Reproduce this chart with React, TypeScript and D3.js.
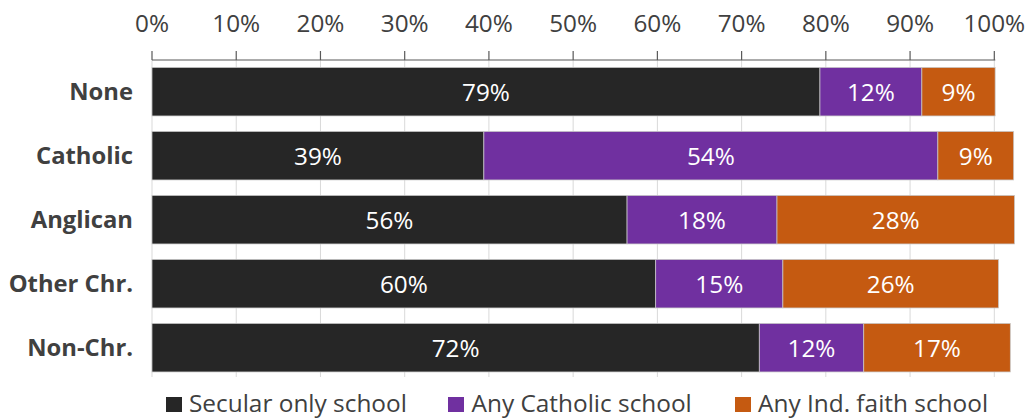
import React from "react";
import * as d3 from "d3";

const categories = ["None", "Catholic", "Anglican", "Other Chr.", "Non-Chr."];
const seriesNames = ["Secular only school", "Any Catholic school", "Any Ind. faith school"];
const secular = [79.3, 39.4, 56.4, 59.8, 72.1];
const catholic = [12.1, 53.9, 17.8, 15.1, 12.4];
const indFaith = [8.7, 9.0, 28.2, 25.6, 17.4];
const secularLabels = ["79%", "39%", "56%", "60%", "72%"];
const catholicLabels = ["12%", "54%", "18%", "15%", "12%"];
const indLabels = ["9%", "9%", "28%", "26%", "17%"];
const ticks = [0, 10, 20, 30, 40, 50, 60, 70, 80, 90, 100];
const colors = ["#262626", "#7030A0", "#C55A11"];

const W = 1032;
const H = 418;
const FONT = "'Open Sans', Lato, sans-serif";

export default function App() {
  const x = d3.scaleLinear().domain([0, 100]).range([152, 994.3]);
  const y = d3
    .scaleBand<string>()
    .domain(categories)
    .range([59.7, 379.7])
    .paddingInner(0.242)
    .paddingOuter(0.121);

  const series = [secular, catholic, indFaith];
  const labels = [secularLabels, catholicLabels, indLabels];
  const rows = categories.map((c, i) => {
    let acc = 0;
    return series.map((s, k) => {
      const x0 = acc;
      acc += s[i];
      return { c, k, x0, x1: acc, label: labels[k][i] };
    });
  });

  const axisY = 60;
  const gridBottom = 377;

  const legendItems = [
    { sx: 166, tx: 189 },
    { sx: 448, tx: 471.5 },
    { sx: 735, tx: 758 },
  ];

  return (
    <svg width={W} height={H} style={{ position: "absolute", left: 0, top: 0 }} fontFamily={FONT}>
      <rect width={W} height={H} fill="#ffffff" />
      {ticks.map((t) => (
        <line key={"g" + t} x1={x(t)} x2={x(t)} y1={axisY} y2={gridBottom} stroke="#d9d9d9" strokeWidth={1} />
      ))}
      <line x1={x(0)} x2={x(100) + 1} y1={axisY} y2={axisY} stroke="#595959" strokeWidth={1.2} />
      {ticks.map((t) => (
        <g key={"t" + t}>
          <line x1={x(t)} x2={x(t)} y1={axisY - 9} y2={axisY} stroke="#595959" strokeWidth={1.2} />
          <text x={x(t)} y={31.5} textAnchor="middle" fontSize={24.3} fill="#404040">
            {t + "%"}
          </text>
        </g>
      ))}
      {rows.map((segs, i) => {
        const yy = y(categories[i]) as number;
        const bh = y.bandwidth();
        return (
          <g key={"r" + i}>
            {segs.map((s) => (
              <rect
                key={s.k}
                x={x(s.x0)}
                y={yy}
                width={x(s.x1) - x(s.x0)}
                height={bh}
                fill={colors[s.k]}
                stroke="#c8c8c8"
                strokeWidth={0.75}
              />
            ))}
            {segs.map((s) => (
              <text
                key={"l" + s.k}
                x={(x(s.x0) + x(s.x1)) / 2}
                y={yy + bh / 2 + 9}
                textAnchor="middle"
                fontSize={24.3}
                fill="#ffffff"
              >
                {s.label}
              </text>
            ))}
            <text
              x={133}
              y={yy + bh / 2 + 8.5}
              textAnchor="end"
              fontSize={23.8}
              fontWeight="bold"
              fill="#404040"
            >
              {categories[i]}
            </text>
          </g>
        );
      })}
      {legendItems.map((l, k) => (
        <g key={"lg" + k}>
          <rect x={l.sx} y={397} width={16} height={15} fill={colors[k]} />
          <text x={l.tx} y={411.5} fontSize={24.4} fill="#404040">
            {seriesNames[k]}
          </text>
        </g>
      ))}
    </svg>
  );
}
